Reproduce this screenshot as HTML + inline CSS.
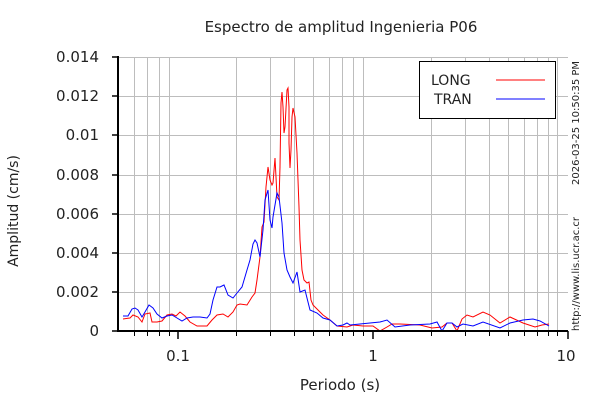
<!DOCTYPE html><html><head><style>body{margin:0;background:#fff}</style></head><body>
<svg width="600" height="400" xmlns="http://www.w3.org/2000/svg" font-family="DejaVu Sans, Liberation Sans, sans-serif">
<rect width="600" height="400" fill="#fff"/>
<g stroke="#bdbdbd" stroke-width="1">
<line x1="118" y1="57.5" x2="568" y2="57.5"/><line x1="118" y1="96.5" x2="568" y2="96.5"/><line x1="118" y1="135.5" x2="568" y2="135.5"/><line x1="118" y1="175.5" x2="568" y2="175.5"/><line x1="118" y1="214.5" x2="568" y2="214.5"/><line x1="118" y1="253.5" x2="568" y2="253.5"/><line x1="118" y1="292.5" x2="568" y2="292.5"/>
<line x1="134.5" y1="57" x2="134.5" y2="331"/><line x1="147.5" y1="57" x2="147.5" y2="331"/><line x1="159.5" y1="57" x2="159.5" y2="331"/><line x1="169.5" y1="57" x2="169.5" y2="331"/>
<line x1="236.5" y1="57" x2="236.5" y2="331"/><line x1="270.5" y1="57" x2="270.5" y2="331"/><line x1="294.5" y1="57" x2="294.5" y2="331"/><line x1="313.5" y1="57" x2="313.5" y2="331"/><line x1="329.5" y1="57" x2="329.5" y2="331"/><line x1="342.5" y1="57" x2="342.5" y2="331"/><line x1="353.5" y1="57" x2="353.5" y2="331"/><line x1="363.5" y1="57" x2="363.5" y2="331"/>
<line x1="431.5" y1="57" x2="431.5" y2="331"/><line x1="465.5" y1="57" x2="465.5" y2="331"/><line x1="489.5" y1="57" x2="489.5" y2="331"/><line x1="508.5" y1="57" x2="508.5" y2="331"/><line x1="524.5" y1="57" x2="524.5" y2="331"/><line x1="537.5" y1="57" x2="537.5" y2="331"/><line x1="548.5" y1="57" x2="548.5" y2="331"/><line x1="557.5" y1="57" x2="557.5" y2="331"/>
</g>
<polyline fill="none" stroke="#f00" stroke-width="1" points="123,319 130,318 133,315 138,317 142,322 145,314 150,313 152,322 157,322 162,321 167,315 172,314 176,316 180,312 185,316 190,322 197,326 207,326 212,320 217,315 223,314 228,317 233,312 237,305 240,304 247,305 252,297 255,293 257,280 260,257 262,227 264,222 266,187 268,167 270,180 272,185 273,183 275,158 276,177 277,197 279,200 280,167 281,103 282,92 283,107 284,133 285,127 287,90 288,88 289,107 289,143 290,168 291,150 292,117 293,108 295,117 297,153 299,207 300,240 302,270 304,280 307,283 309,282 311,300 313,305 318,310 323,315 330,320 337,326 347,327 353,325 363,326 373,326 380,331 387,327 392,324 400,324 420,325 432,328 442,327 447,323 452,323 457,331 462,319 467,315 473,317 483,312 490,315 500,323 510,317 523,323 535,327 542,325 549,324"/>
<polyline fill="none" stroke="#00f" stroke-width="1" points="123,316 128,316 132,309 135,308 138,310 142,317 145,312 149,305 153,308 157,314 162,318 167,316 172,315 177,318 182,321 187,318 193,317 200,317 207,318 210,314 213,300 217,287 220,287 224,285 228,295 233,298 237,293 242,287 247,270 250,260 253,244 255,240 257,243 260,257 263,230 265,200 268,190 270,220 272,228 273,217 277,193 279,197 282,223 284,253 287,270 290,277 293,283 297,272 300,292 305,290 310,310 317,313 323,318 330,320 337,326 343,325 347,323 350,325 360,324 370,323 380,322 387,320 395,327 410,325 430,324 437,322 442,331 447,323 452,323 457,327 463,324 473,326 483,322 500,328 510,323 523,320 533,319 540,321 549,326"/>
<g stroke="#000" stroke-width="2"><line x1="118" y1="56" x2="118" y2="332"/><line x1="117" y1="331" x2="568" y2="331"/></g>
<g stroke="#000" stroke-width="1.5">
<line x1="112" y1="57" x2="118" y2="57"/><line x1="112" y1="96" x2="118" y2="96"/><line x1="112" y1="135" x2="118" y2="135"/><line x1="112" y1="175" x2="118" y2="175"/><line x1="112" y1="214" x2="118" y2="214"/><line x1="112" y1="253" x2="118" y2="253"/><line x1="112" y1="292" x2="118" y2="292"/><line x1="112" y1="331" x2="118" y2="331"/>
<line x1="178" y1="331" x2="178" y2="339"/><line x1="373" y1="331" x2="373" y2="339"/><line x1="568" y1="331" x2="568" y2="339"/>
</g>
<g stroke="#000" stroke-width="1">
<line x1="134.5" y1="331" x2="134.5" y2="336"/><line x1="147.5" y1="331" x2="147.5" y2="336"/><line x1="159.5" y1="331" x2="159.5" y2="336"/><line x1="169.5" y1="331" x2="169.5" y2="336"/>
<line x1="236.5" y1="331" x2="236.5" y2="336"/><line x1="270.5" y1="331" x2="270.5" y2="336"/><line x1="294.5" y1="331" x2="294.5" y2="336"/><line x1="313.5" y1="331" x2="313.5" y2="336"/><line x1="329.5" y1="331" x2="329.5" y2="336"/><line x1="342.5" y1="331" x2="342.5" y2="336"/><line x1="353.5" y1="331" x2="353.5" y2="336"/><line x1="363.5" y1="331" x2="363.5" y2="336"/>
<line x1="431.5" y1="331" x2="431.5" y2="336"/><line x1="465.5" y1="331" x2="465.5" y2="336"/><line x1="489.5" y1="331" x2="489.5" y2="336"/><line x1="508.5" y1="331" x2="508.5" y2="336"/><line x1="524.5" y1="331" x2="524.5" y2="336"/><line x1="537.5" y1="331" x2="537.5" y2="336"/><line x1="548.5" y1="331" x2="548.5" y2="336"/><line x1="557.5" y1="331" x2="557.5" y2="336"/>
</g>
<g font-size="15" fill="#222" text-anchor="end">
<text x="99" y="62">0.014</text><text x="99" y="101">0.012</text><text x="99" y="140">0.01</text><text x="99" y="180">0.008</text><text x="99" y="219">0.006</text><text x="99" y="258">0.004</text><text x="99" y="297">0.002</text><text x="99" y="336">0</text>
</g>
<g font-size="15" fill="#222" text-anchor="middle">
<text x="178" y="361">0.1</text><text x="373" y="361">1</text><text x="566" y="361">10</text>
<text x="340" y="390">Periodo (s)</text>
<text x="341" y="32">Espectro de amplitud Ingenieria P06</text>
</g>
<text transform="translate(18,211) rotate(-90)" font-size="14" fill="#222" text-anchor="middle">Amplitud (cm/s)</text>
<rect x="419.5" y="61.5" width="136" height="57" fill="#fff" stroke="#000"/>
<text x="431" y="85" font-size="14" fill="#222">LONG</text>
<text x="434" y="104" font-size="14" fill="#222">TRAN</text>
<line x1="496" y1="80" x2="545" y2="80" stroke="#f00"/>
<line x1="496" y1="99" x2="545" y2="99" stroke="#00f"/>
<g font-size="10" fill="#222"><text transform="translate(579,185) rotate(-90)">2026-03-25 10:50:35 PM</text><text transform="translate(579,331) rotate(-90)">http://www.lis.ucr.ac.cr</text></g>
</svg></body></html>
